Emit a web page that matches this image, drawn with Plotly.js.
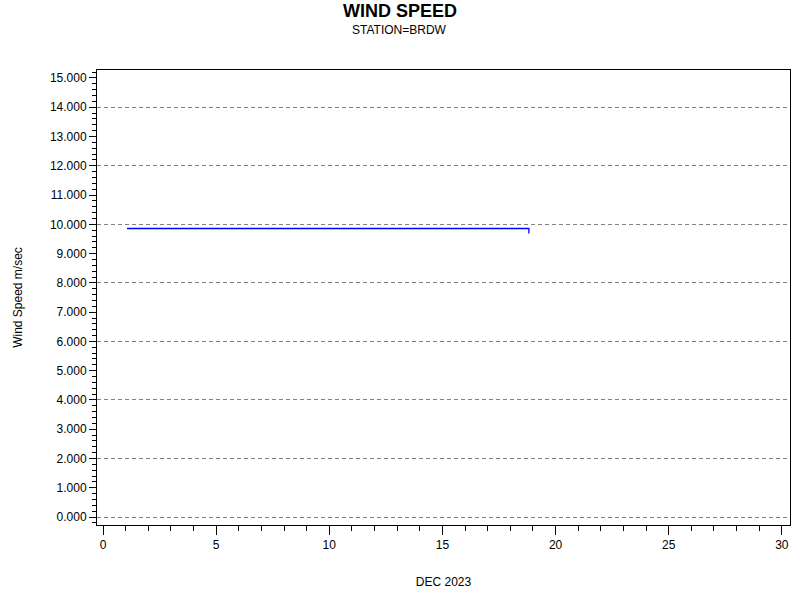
<!DOCTYPE html>
<html>
<head>
<meta charset="utf-8">
<script src="https://cdn.plot.ly/plotly-3.0.1.min.js"></script>
<style>
  html, body { margin: 0; padding: 0; background: #fff; }
  #chart { width: 800px; height: 600px; }
</style>
</head>
<body>
<div id="chart"></div>
<script>
// Wind speed readings, day of month (Dec 2023)
var days = [1.06, 18.82, 18.82];
var speed = [9.856, 9.856, 9.69];

var yTicks = [0, 1, 2, 3, 4, 5, 6, 7, 8, 9, 10, 11, 12, 13, 14, 15];
var yGrid = [0, 2, 4, 6, 8, 10, 12, 14];
var xTicks = [0, 5, 10, 15, 20, 25, 30];

var font = "Liberation Sans, Arial, sans-serif";
var yRange = [-0.27, 15.27];

var data = [
  {
    x: days,
    y: speed,
    type: "scatter",
    mode: "lines",
    line: { color: "#0000ff", width: 1.3 },
    hoverinfo: "skip"
  }
];

var layout = {
  width: 800,
  height: 600,
  margin: { l: 97, r: 10, t: 70, b: 75 },
  paper_bgcolor: "#fff",
  plot_bgcolor: "#fff",
  showlegend: false,
  font: { family: font, size: 12, color: "#000" },
  xaxis: {
    range: [-0.265, 30.36],
    tickmode: "array",
    tickvals: xTicks,
    ticks: "outside",
    ticklen: 9,
    tickwidth: 1,
    tickcolor: "#000",
    showgrid: false,
    zeroline: false,
    showline: true,
    linecolor: "#000",
    linewidth: 1,
    mirror: true,
    minor: { dtick: 1, ticks: "outside", ticklen: 5, tickcolor: "#000", showgrid: false },
    tickfont: { family: font, size: 12 },
    title: { text: "DEC 2023", font: { family: font, size: 12 }, standoff: 26 }
  },
  yaxis: {
    range: yRange,
    tickmode: "array",
    tickvals: yTicks,
    tickformat: ".3f",
    ticks: "outside",
    ticklen: 7,
    tickwidth: 1,
    tickcolor: "#000",
    showgrid: false,
    zeroline: false,
    showline: true,
    linecolor: "#000",
    linewidth: 1,
    mirror: true,
    minor: { dtick: 0.2, ticks: "outside", ticklen: 4, tickcolor: "#000", showgrid: false },
    tickfont: { family: font, size: 12 },
    title: { text: "Wind Speed m/sec", font: { family: font, size: 12 }, standoff: 24 }
  },
  // grid-only axis: dashed reference lines at every second unit
  yaxis2: {
    overlaying: "y",
    side: "right",
    range: yRange,
    tickmode: "array",
    tickvals: yGrid,
    showticklabels: false,
    ticks: "",
    showgrid: true,
    gridcolor: "#808080",
    griddash: "4px,3px",
    gridwidth: 1,
    zeroline: false,
    showline: false,
    layer: "below traces"
  },
  annotations: [
    {
      text: "<b>WIND SPEED</b>",
      xref: "paper", yref: "paper",
      x: 0.437, y: 1, yshift: 59,
      xanchor: "center", yanchor: "middle",
      showarrow: false,
      font: { family: font, size: 18, color: "#000" }
    },
    {
      text: "STATION=BRDW",
      xref: "paper", yref: "paper",
      x: 0.437, y: 1, yshift: 40,
      xanchor: "center", yanchor: "middle",
      showarrow: false,
      font: { family: font, size: 12, color: "#000" }
    }
  ]
};

// invisible trace so the grid axis is drawn
data.push({ x: [null], y: [null], yaxis: "y2", type: "scatter", mode: "lines", hoverinfo: "skip" });

Plotly.newPlot("chart", data, layout, { displayModeBar: false, staticPlot: true });
</script>
</body>
</html>
